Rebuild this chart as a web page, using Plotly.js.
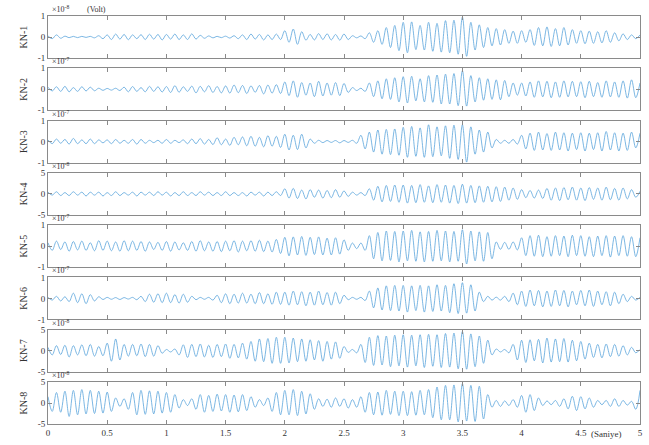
<!DOCTYPE html>
<html>
<head>
<meta charset="utf-8">
<script src="https://cdn.plot.ly/plotly-3.0.1.min.js"></script>
<style>html,body{margin:0;padding:0;background:#fff;}#chart{width:649px;height:445px;}</style>
</head>
<body>
<div id="chart"></div>
<script>
// Sample times (s): one sample per half-cycle, 0 .. 5 s
const sampleCount = 141;
const sampleStep = 1 / 28;

const channelNames = ['KN-1','KN-2','KN-3','KN-4','KN-5','KN-6','KN-7','KN-8'];
const channelExponents = ['-8','-7','-7','-8','-7','-7','-8','-8'];
const channelLimits = [1, 1, 1, 5, 1, 1, 5, 5];

const xTickValues = [0,0.5,1,1.5,2,2.5,3,3.5,4,4.5,5];
const xTickLabels = ['0','0.5','1','1.5','2','2.5','3','3.5','4','4.5','5'];

const kn1 = [0.05,-0.08,0.1,-0.06,0.04,-0.03,0.03,-0.03,0.03,-0.02,0.03,-0.04,0.06,-0.08,
0.1,-0.12,0.14,-0.1,0.12,-0.13,0.1,-0.08,0.11,-0.12,0.13,-0.1,0.12,-0.14,
0.12,-0.1,0.14,-0.12,0.1,-0.12,0.15,-0.1,0.08,-0.06,0.05,-0.04,0.03,-0.03,
0.04,-0.05,0.06,-0.08,0.1,-0.12,0.14,-0.1,0.12,-0.14,0.1,-0.12,0.14,-0.12,
0.3,-0.25,0.38,-0.35,0.25,-0.15,0.12,-0.14,0.16,-0.12,0.15,-0.14,0.12,-0.15,
0.14,-0.12,0.06,-0.04,0.05,-0.08,0.2,-0.25,0.3,-0.35,0.45,-0.5,0.55,-0.65,
0.7,-0.75,0.72,-0.6,0.55,-0.62,0.7,-0.68,0.65,-0.72,0.78,-0.75,0.8,-0.82,
0.95,-0.92,0.7,-0.62,0.58,-0.5,0.45,-0.42,0.4,-0.38,0.35,-0.3,0.28,-0.3,
0.3,-0.25,0.35,-0.4,0.45,-0.42,0.48,-0.45,0.4,-0.42,0.45,-0.38,0.35,-0.3,
0.3,-0.32,0.28,-0.3,0.25,-0.28,0.3,-0.25,0.2,-0.18,0.15,-0.12,0.1,-0.08,
0.1];

const kn2 = [0.1,-0.08,0.12,-0.1,0.14,-0.12,0.08,-0.1,0.12,-0.08,0.1,-0.07,0.05,-0.05,
0.04,-0.04,0.05,-0.06,0.1,-0.12,0.13,-0.1,0.08,-0.12,0.14,-0.1,0.12,-0.13,
0.13,-0.15,0.17,-0.14,0.12,-0.1,0.15,-0.17,0.14,-0.12,0.17,-0.15,0.13,-0.17,
0.16,-0.18,0.2,-0.16,0.18,-0.2,0.16,-0.14,0.18,-0.22,0.2,-0.18,0.22,-0.2,
0.35,-0.3,0.4,-0.38,0.32,-0.28,0.3,-0.35,0.38,-0.32,0.3,-0.28,0.32,-0.3,
0.28,-0.15,0.08,-0.06,0.05,-0.1,0.3,-0.35,0.4,-0.45,0.5,-0.48,0.55,-0.6,
0.6,-0.65,0.62,-0.55,0.5,-0.6,0.65,-0.62,0.68,-0.7,0.72,-0.7,0.75,-0.78,
0.88,-0.8,0.65,-0.6,0.55,-0.52,0.5,-0.48,0.45,-0.5,0.42,-0.35,0.3,-0.28,
0.3,-0.32,0.35,-0.38,0.4,-0.36,0.38,-0.4,0.35,-0.38,0.4,-0.36,0.38,-0.35,
0.36,-0.4,0.38,-0.35,0.32,-0.38,0.4,-0.36,0.35,-0.38,0.4,-0.42,0.45,-0.4,
0.3];

const kn3 = [0.08,-0.1,0.12,-0.08,0.1,-0.12,0.15,-0.1,0.08,-0.1,0.12,-0.1,0.08,-0.06,
0.08,-0.1,0.1,-0.08,0.06,-0.08,0.1,-0.12,0.1,-0.08,0.06,-0.05,0.06,-0.08,
0.1,-0.08,0.06,-0.05,0.08,-0.1,0.12,-0.1,0.14,-0.12,0.1,-0.14,0.18,-0.15,
0.12,-0.18,0.2,-0.15,0.22,-0.2,0.25,-0.22,0.2,-0.25,0.28,-0.22,0.25,-0.28,
0.35,-0.4,0.3,-0.38,0.35,-0.3,0.12,-0.08,0.06,-0.05,0.05,-0.04,0.05,-0.06,
0.05,-0.04,0.06,-0.08,0.3,-0.35,0.45,-0.5,0.55,-0.6,0.58,-0.62,0.6,-0.65,
0.68,-0.75,0.72,-0.7,0.65,-0.75,0.8,-0.72,0.7,-0.68,0.75,-0.8,0.78,-0.85,
0.8,-0.98,0.7,-0.6,0.55,-0.5,0.45,-0.3,0.1,-0.08,0.06,-0.08,0.1,-0.12,
0.3,-0.35,0.4,-0.42,0.45,-0.4,0.38,-0.42,0.45,-0.4,0.42,-0.45,0.4,-0.38,
0.42,-0.45,0.4,-0.38,0.42,-0.45,0.48,-0.4,0.42,-0.45,0.4,-0.42,0.45,-0.3,
0.4];

const kn4 = [0.4,-0.3,0.5,-0.4,0.3,-0.4,0.5,-0.3,0.4,-0.5,0.4,-0.3,0.4,-0.5,
0.3,-0.4,0.5,-0.4,0.3,-0.3,0.4,-0.5,0.4,-0.3,0.4,-0.4,0.5,-0.3,
0.4,-0.5,0.3,-0.4,0.5,-0.4,0.3,-0.4,0.5,-0.3,0.4,-0.4,0.3,-0.4,
0.5,-0.4,0.3,-0.4,0.3,-0.5,0.4,-0.3,0.4,-0.5,0.4,-0.4,0.5,-0.4,
1.2,-1.0,1.3,-1.1,0.9,-1.2,1.0,-0.8,0.9,-1.0,0.8,-0.9,1.0,-0.8,
0.7,-0.6,0.4,-0.3,0.3,-0.4,1.2,-1.5,1.8,-1.9,2.0,-1.8,2.1,-2.0,
2.1,-2.2,2.0,-2.1,2.2,-2.0,1.9,-2.1,2.2,-2.0,2.1,-2.2,2.0,-2.3,
2.3,-2.2,2.0,-2.1,1.9,-2.0,1.8,-1.9,1.7,-1.8,1.6,-1.5,1.4,-1.3,
1.0,-0.9,0.8,-1.0,0.9,-1.1,1.3,-1.5,1.4,-1.6,1.5,-1.4,1.6,-1.5,
1.4,-1.6,1.5,-1.3,1.4,-1.5,1.6,-1.4,1.3,-1.5,1.4,-1.2,1.0,-0.8,
0.6];

const kn5 = [0.16,-0.2,0.24,-0.16,0.2,-0.24,0.22,-0.18,0.24,-0.2,0.16,-0.22,0.26,-0.2,
0.24,-0.22,0.2,-0.24,0.26,-0.22,0.24,-0.2,0.22,-0.24,0.2,-0.16,0.18,-0.2,
0.22,-0.24,0.2,-0.18,0.16,-0.2,0.22,-0.24,0.26,-0.22,0.2,-0.24,0.22,-0.26,
0.24,-0.22,0.26,-0.28,0.24,-0.22,0.26,-0.24,0.28,-0.26,0.24,-0.28,0.32,-0.35,
0.42,-0.46,0.44,-0.42,0.46,-0.44,0.42,-0.4,0.44,-0.42,0.38,-0.42,0.4,-0.38,
0.3,-0.2,0.15,-0.12,0.15,-0.2,0.5,-0.6,0.65,-0.7,0.72,-0.68,0.7,-0.75,
0.72,-0.7,0.75,-0.72,0.68,-0.75,0.7,-0.72,0.75,-0.7,0.72,-0.75,0.7,-0.72,
0.78,-0.85,0.72,-0.7,0.68,-0.72,0.65,-0.6,0.2,-0.15,0.18,-0.15,0.2,-0.18,
0.4,-0.45,0.5,-0.48,0.52,-0.5,0.45,-0.48,0.5,-0.45,0.48,-0.5,0.52,-0.45,
0.5,-0.48,0.45,-0.5,0.48,-0.45,0.5,-0.52,0.48,-0.45,0.5,-0.48,0.45,-0.5,
0.4];

const kn6 = [0.05,-0.08,0.1,-0.12,0.08,-0.15,0.25,-0.2,0.22,-0.25,0.18,-0.12,0.08,-0.05,
0.05,-0.04,0.04,-0.05,0.04,-0.03,0.05,-0.06,0.1,-0.15,0.2,-0.18,0.22,-0.2,
0.25,-0.2,0.18,-0.22,0.2,-0.18,0.1,-0.06,0.05,-0.04,0.05,-0.08,0.15,-0.2,
0.22,-0.25,0.2,-0.22,0.25,-0.22,0.2,-0.25,0.28,-0.25,0.22,-0.28,0.3,-0.28,
0.3,-0.32,0.35,-0.3,0.32,-0.35,0.3,-0.32,0.35,-0.3,0.28,-0.32,0.3,-0.25,
0.15,-0.06,0.05,-0.04,0.05,-0.1,0.35,-0.45,0.5,-0.55,0.6,-0.58,0.62,-0.6,
0.62,-0.65,0.6,-0.58,0.62,-0.65,0.6,-0.62,0.65,-0.6,0.62,-0.68,0.7,-0.72,
0.75,-0.7,0.65,-0.6,0.3,-0.15,0.1,-0.08,0.06,-0.08,0.1,-0.15,0.25,-0.3,
0.35,-0.38,0.4,-0.35,0.38,-0.4,0.35,-0.38,0.4,-0.35,0.38,-0.4,0.35,-0.3,
0.38,-0.35,0.4,-0.38,0.35,-0.3,0.32,-0.35,0.3,-0.25,0.2,-0.15,0.1,-0.08,
0.05];

const kn7 = [0.8,-1.0,1.2,-0.9,1.3,-1.5,1.2,-1.0,1.4,-1.2,1.5,-1.3,1.0,-1.2,
1.8,-2.5,2.8,-2.2,1.5,-1.3,1.5,-1.2,1.6,-1.4,1.5,-1.3,1.2,-0.6,
0.3,-0.3,0.4,-1.0,1.4,-1.6,1.5,-1.4,1.6,-1.5,1.3,-1.6,1.5,-1.4,
1.6,-1.8,1.5,-1.7,1.8,-2.0,2.2,-2.5,2.8,-2.6,2.9,-3.0,3.2,-3.0,
3.2,-2.9,3.0,-2.6,2.8,-2.5,2.6,-2.2,2.4,-2.5,2.2,-2.0,2.1,-1.8,
1.0,-0.4,0.3,-0.5,1.5,-2.8,3.2,-3.5,3.6,-3.4,3.5,-3.8,3.7,-3.6,
3.8,-3.9,3.7,-3.6,3.8,-4.0,3.9,-3.7,3.8,-4.0,4.1,-3.9,4.2,-4.3,
4.6,-4.4,4.0,-3.8,3.5,-3.0,2.5,-1.0,0.4,-0.3,0.3,-0.5,1.5,-2.2,
2.5,-2.8,2.6,-2.4,2.7,-2.9,3.0,-2.7,2.8,-2.6,2.9,-2.7,2.5,-2.4,
2.2,-2.0,1.8,-1.6,1.5,-1.7,1.6,-1.4,1.5,-1.3,1.2,-1.0,0.8,-0.5,
0.3];

const kn8 = [1.5,-2.0,2.5,-2.2,2.8,-3.2,3.0,-2.8,3.2,-2.6,3.0,-2.5,2.8,-2.4,
2.6,-2.0,1.2,-0.8,1.0,-1.5,2.5,-2.8,3.0,-2.7,2.9,-2.6,2.8,-2.4,
2.5,-2.2,2.0,-1.2,0.8,-0.6,1.0,-1.5,2.0,-2.2,1.8,-2.0,2.1,-1.9,
2.0,-2.2,1.9,-2.1,2.0,-1.8,1.5,-1.0,0.8,-0.6,1.2,-2.0,2.5,-2.8,
3.0,-2.8,3.2,-3.0,2.8,-2.6,2.2,-1.5,1.0,-0.8,0.9,-1.0,1.2,-0.8,
1.0,-1.2,0.8,-1.0,1.5,-2.2,2.5,-2.8,2.6,-2.9,3.0,-2.7,2.8,-3.0,
2.8,-3.0,2.7,-2.9,3.0,-2.8,3.2,-3.5,3.8,-4.0,4.2,-4.0,4.3,-4.5,
4.6,-4.3,4.2,-4.4,4.0,-3.8,2.0,-1.0,0.6,-0.8,0.5,-0.6,0.8,-1.0,
1.8,-2.2,2.0,-1.8,1.2,-0.6,0.5,-0.4,0.6,-0.8,1.0,-1.4,1.6,-1.8,
1.5,-1.4,1.2,-1.0,0.6,-0.4,0.6,-0.8,1.0,-0.8,0.6,-0.5,0.4,-1.5,
3.0];

const channelValues = [kn1, kn2, kn3, kn4, kn5, kn6, kn7, kn8];

// ---- build figure ----
const times = Array.from({length: sampleCount}, (_, i) => i * sampleStep);
const W = 649, H = 445;
const M = {l: 48, r: 9, t: 16, b: 21};
const plotH = H - M.t - M.b;
const panelH = 42, gapH = (plotH - 8 * panelH) / 7;
const serif = 'Liberation Serif, Times New Roman, serif';
const boxColor = '#8a8a8a';
const lineColor = '#5aa5dc';

const data = [];
const layout = {
  width: W, height: H,
  margin: M,
  paper_bgcolor: '#fff', plot_bgcolor: '#fff',
  showlegend: false,
  font: {family: serif, size: 9, color: '#333'},
  annotations: []
};

for (let k = 0; k < 8; k++) {
  const sfx = k === 0 ? '' : String(k + 1);
  const top = 1 - k * (panelH + gapH) / plotH;
  const bottom = top - panelH / plotH;
  const lim = channelLimits[k];
  data.push({
    type: 'scatter', mode: 'lines',
    x: times, y: channelValues[k],
    xaxis: 'x' + sfx, yaxis: 'y' + sfx,
    line: {color: lineColor, width: 0.8, shape: 'spline', smoothing: 1},
    hoverinfo: 'skip'
  });
  layout['xaxis' + sfx] = {
    domain: [0, 1], anchor: 'y' + sfx,
    range: [0, 5],
    tickvals: xTickValues, ticktext: xTickLabels,
    showticklabels: k === 7,
    ticks: 'inside', ticklen: 4, tickcolor: boxColor, tickwidth: 1,
    showline: true, linecolor: boxColor, linewidth: 1, mirror: 'ticks',
    showgrid: false, zeroline: false,
    tickfont: {family: serif, size: 9, color: '#333'}
  };
  layout['yaxis' + sfx] = {
    domain: [bottom, top], anchor: 'x' + sfx,
    range: [-lim, lim],
    tickvals: [-lim, 0, lim], ticktext: ['-' + lim, '0', String(lim)],
    ticks: 'inside', ticklen: 4, tickcolor: boxColor, tickwidth: 1,
    showline: true, linecolor: boxColor, linewidth: 1, mirror: 'ticks',
    showgrid: false, zeroline: false,
    tickfont: {family: serif, size: 9, color: '#333'},
    title: {text: channelNames[k], font: {family: serif, size: 10, color: '#333'}, standoff: 8}
  };
  layout.annotations.push({
    xref: 'paper', yref: 'paper', x: 0.004, y: top,
    xanchor: 'left', yanchor: 'bottom', showarrow: false,
    text: '×10<sup>' + channelExponents[k] + '</sup>',
    font: {family: serif, size: 8, color: '#333'}
  });
}
layout.annotations.push({
  xref: 'paper', yref: 'paper', x: 0.062, y: 1,
  xanchor: 'left', yanchor: 'bottom', showarrow: false,
  text: '(Volt)', font: {family: serif, size: 8, color: '#333'}
});
layout.annotations.push({
  xref: 'paper', yref: 'paper', x: 0.944, y: 0,
  xanchor: 'center', yanchor: 'top', yshift: -3, showarrow: false,
  text: '(Saniye)', font: {family: serif, size: 9, color: '#333'}
});

Plotly.newPlot('chart', data, layout, {displayModeBar: false, staticPlot: true});
</script>
</body>
</html>
